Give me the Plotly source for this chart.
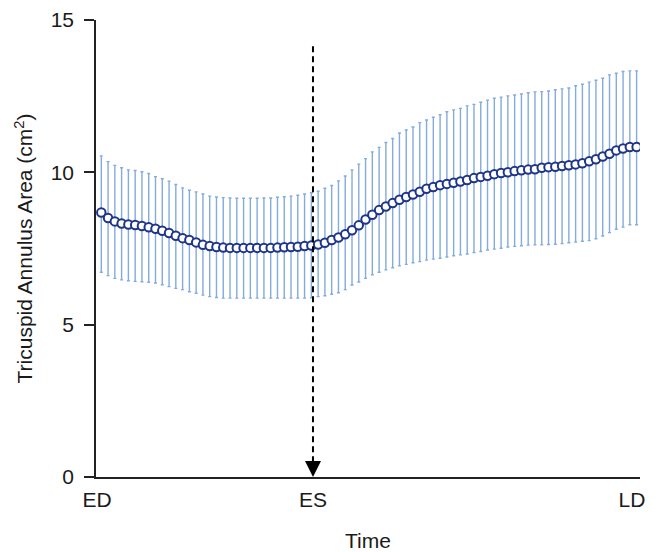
import plotly.graph_objects as go

frame_index = list(range(80))

mean_area = [8.68, 8.50, 8.39, 8.32, 8.29, 8.27, 8.24, 8.20, 8.15, 8.08,
             8.01, 7.92, 7.84, 7.78, 7.70, 7.62, 7.58, 7.55, 7.53, 7.52,
             7.52, 7.52, 7.52, 7.52, 7.52, 7.52, 7.53, 7.54, 7.55, 7.56,
             7.58, 7.60, 7.63, 7.69, 7.78, 7.86, 7.97, 8.10, 8.26, 8.45,
             8.61, 8.76, 8.88, 8.99, 9.10, 9.19, 9.27, 9.36, 9.46, 9.52,
             9.58, 9.62, 9.66, 9.70, 9.75, 9.81, 9.85, 9.89, 9.94, 9.98,
             10.00, 10.04, 10.07, 10.09, 10.10, 10.15, 10.17, 10.18, 10.21, 10.23,
             10.26, 10.30, 10.36, 10.43, 10.52, 10.61, 10.72, 10.78, 10.83, 10.83]

upper_area = [10.54, 10.35, 10.23, 10.15, 10.08, 10.06, 10.02, 9.96, 9.86, 9.79,
              9.71, 9.60, 9.49, 9.41, 9.36, 9.29, 9.22, 9.19, 9.17, 9.16,
              9.15, 9.15, 9.15, 9.15, 9.16, 9.16, 9.18, 9.20, 9.22, 9.25,
              9.29, 9.33, 9.38, 9.48, 9.57, 9.72, 9.88, 10.08, 10.27, 10.45,
              10.67, 10.82, 10.98, 11.11, 11.29, 11.39, 11.49, 11.63, 11.72, 11.81,
              11.89, 11.99, 12.05, 12.10, 12.18, 12.23, 12.30, 12.37, 12.43, 12.47,
              12.51, 12.54, 12.57, 12.61, 12.64, 12.65, 12.67, 12.71, 12.74, 12.77,
              12.84, 12.89, 12.96, 13.02, 13.09, 13.20, 13.25, 13.31, 13.33, 13.33]

lower_area = [6.72, 6.61, 6.52, 6.47, 6.44, 6.42, 6.41, 6.39, 6.37, 6.31,
              6.25, 6.19, 6.15, 6.08, 6.03, 5.97, 5.92, 5.89, 5.87, 5.87,
              5.87, 5.87, 5.87, 5.87, 5.87, 5.87, 5.87, 5.87, 5.87, 5.87,
              5.87, 5.88, 5.92, 5.95, 6.00, 6.05, 6.15, 6.30, 6.40, 6.52,
              6.64, 6.72, 6.80, 6.87, 6.93, 6.98, 7.03, 7.07, 7.12, 7.15,
              7.18, 7.22, 7.26, 7.29, 7.32, 7.37, 7.40, 7.45, 7.48, 7.51,
              7.55, 7.57, 7.59, 7.61, 7.62, 7.62, 7.63, 7.64, 7.66, 7.69,
              7.71, 7.74, 7.76, 7.82, 7.91, 8.02, 8.13, 8.20, 8.28, 8.28]

x_tick_vals = [-0.63, 31.24, 78.3]
x_tick_text = ["ED", "ES", "LD"]
es_index = 31.24
arrow_top = 14.14

err_plus = [u - m for u, m in zip(upper_area, mean_area)]
err_minus = [m - l for m, l in zip(mean_area, lower_area)]

FONT = "Liberation Sans, Arial, sans-serif"
FS = 21

fig = go.Figure()
fig.add_trace(go.Scatter(
    x=frame_index, y=mean_area, mode="markers",
    marker=dict(symbol="circle", size=8.5, color="white",
                line=dict(color="#1f3588", width=2)),
    error_y=dict(type="data", symmetric=False, array=err_plus, arrayminus=err_minus,
                 color="#84abdc", thickness=1.4, width=1.5),
    showlegend=False, hoverinfo="skip",
))

fig.add_shape(type="line", x0=es_index, x1=es_index, y0=arrow_top, y1=0.5,
              xref="x", yref="y", layer="above",
              line=dict(color="black", width=2, dash="6px,4px"))
fig.add_annotation(x=es_index, y=0, ax=es_index, ay=0.7, xref="x", yref="y",
                   axref="x", ayref="y", text="", showarrow=True,
                   arrowhead=2, arrowsize=1.6, arrowwidth=2, arrowcolor="black",
                   standoff=0, startstandoff=0)

fig.update_layout(
    width=664, height=552,
    margin=dict(l=96, r=24, t=20, b=75),
    plot_bgcolor="white", paper_bgcolor="white",
    font=dict(family=FONT, size=FS, color="#1a1a1a"),
    xaxis=dict(range=[-0.78, 79.5], showgrid=False, zeroline=False,
               automargin=False,
               showline=True, linecolor="#222222", linewidth=1.5,
               tickmode="array", tickvals=x_tick_vals, ticktext=x_tick_text,
               ticks="outside", ticklen=3, tickcolor="rgba(0,0,0,0)",
               tickfont=dict(size=FS),
               title=dict(text="Time", font=dict(size=FS), standoff=27)),
    yaxis=dict(range=[0, 15], showgrid=False, zeroline=False,
               automargin=False,
               showline=True, linecolor="#222222", linewidth=1.5,
               tickmode="array", tickvals=[0, 5, 10, 15],
               ticks="outside", ticklen=10, tickwidth=1.5, tickcolor="#222222",
               ticklabelstandoff=6,
               tickfont=dict(size=FS),
               title=dict(text="Tricuspid Annulus Area (cm<sup>2</sup>)",
                          font=dict(size=FS), standoff=12)),
)

fig.write_html("out.html")
